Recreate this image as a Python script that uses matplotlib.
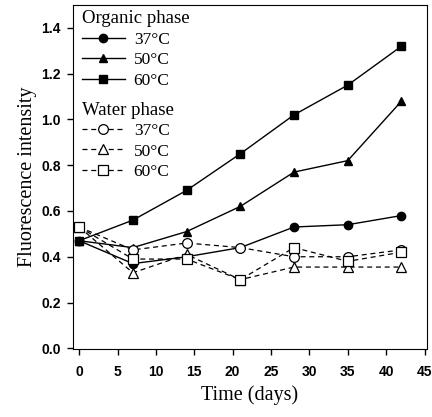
import matplotlib
matplotlib.use("Agg")
import matplotlib.pyplot as plt

# Time points (days)
days = [0, 7, 14, 21, 28, 35, 42]

# Organic phase
org_37 = [0.47, 0.37, 0.40, 0.44, 0.53, 0.54, 0.58]
org_50 = [0.47, 0.44, 0.51, 0.62, 0.77, 0.82, 1.08]
org_60 = [0.47, 0.56, 0.69, 0.85, 1.02, 1.15, 1.32]

# Water phase
wat_37 = [0.53, 0.43, 0.46, 0.44, 0.40, 0.40, 0.43]
wat_50 = [0.53, 0.33, 0.41, 0.30, 0.355, 0.355, 0.355]
wat_60 = [0.53, 0.39, 0.39, 0.30, 0.44, 0.38, 0.42]

temps = ["37\u00b0C", "50\u00b0C", "60\u00b0C"]
markers = ["o", "^", "s"]

serif = "Liberation Serif"
sans = "Liberation Sans"

fig = plt.figure(figsize=(4.32, 4.17), dpi=100)
ax = fig.add_axes([0.169, 0.162, 0.819, 0.826])

dash = (0, (4, 3))
org_lines = []
for vals, m in zip([org_37, org_50, org_60], markers):
    h, = ax.plot(days, vals, color="black", lw=1, marker=m, ms=6,
                 mfc="black", mec="black")
    org_lines.append(h)

wat_lines = []
for vals, m in zip([wat_37, wat_50, wat_60], markers):
    h, = ax.plot(days, vals, color="black", lw=0.9, linestyle=dash, marker=m,
                 ms=7, mfc="white", mec="black", mew=0.9)
    wat_lines.append(h)

ax.set_xlim(-0.8, 45.3)
ax.set_ylim(-0.005, 1.5)
ax.set_xticks(range(0, 46, 5))
ax.set_yticks([0.0, 0.2, 0.4, 0.6, 0.8, 1.0, 1.2, 1.4])
ax.set_yticklabels(["0.0", "0.2", "0.4", "0.6", "0.8", "1.0", "1.2", "1.4"])
ax.tick_params(direction="out", length=4, width=1, labelsize=10, pad=5)
for lab in ax.get_xticklabels() + ax.get_yticklabels():
    lab.set_fontfamily(sans)
    lab.set_fontweight("bold")
ax.tick_params(axis="x", pad=7)

ax.set_xlabel("Time (days)", fontfamily=serif, fontsize=14.5, labelpad=5)
ax.set_ylabel("Fluorescence intensity", fontfamily=serif, fontsize=14.5, labelpad=3)

leg_kw = dict(frameon=False, handlelength=2.5, handletextpad=0.5,
              labelspacing=0.25, prop={"family": serif, "size": 12.5},
              alignment="left", borderaxespad=0.2)
leg1 = ax.legend(org_lines, temps, title="Organic phase", loc="upper left",
                 bbox_to_anchor=(-0.005, 1.015), **leg_kw)
leg1.get_title().set_fontfamily(serif)
leg1.get_title().set_fontsize(13.5)
ax.add_artist(leg1)
leg2 = ax.legend(wat_lines, temps, title="Water phase", loc="upper left",
                 bbox_to_anchor=(-0.005, 0.75), **leg_kw)
leg2.get_title().set_fontfamily(serif)
leg2.get_title().set_fontsize(13.5)

fig.savefig("out.png", dpi=100)
